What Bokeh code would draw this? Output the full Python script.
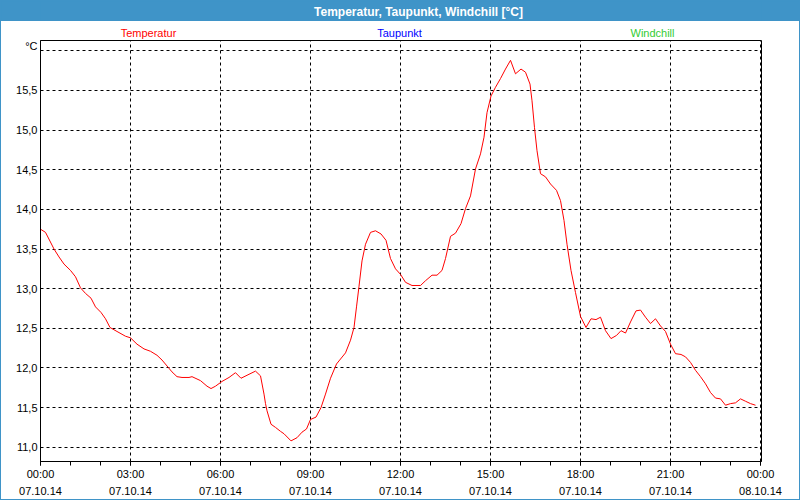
from bokeh.plotting import figure
from bokeh.layouts import column
from bokeh.models import FixedTicker, Label, Range1d
from bokeh.embed import file_html
from bokeh.resources import INLINE

# ---- data (minutes since 07.10.14 00:00, temperature in °C) ----
minutes = [0, 10, 27, 37, 47, 60, 70, 80, 90, 101, 110, 121, 130, 139, 153, 170, 180,
           193, 207, 220, 233, 243, 255, 263, 273, 283, 297, 303, 320, 333, 341, 350,
           363, 377, 390, 401, 417, 430, 440, 447, 450, 453, 461, 470, 480, 487, 501,
           513, 523, 532, 540, 551, 561, 570, 580, 592, 610, 620, 627, 632, 637, 643,
           650, 660, 670, 681, 691, 700, 710, 720, 730, 743, 760, 770, 783, 793, 803,
           810, 820, 830, 841, 850, 860, 870, 880, 887, 893, 901, 910, 920, 930, 940,
           950, 961, 970, 979, 983, 988, 993, 1000, 1010, 1020, 1032, 1040, 1047, 1053,
           1061, 1070, 1080, 1091, 1101, 1111, 1120, 1130, 1141, 1152, 1161, 1170, 1180,
           1191, 1200, 1210, 1220, 1230, 1240, 1250, 1260, 1270, 1281, 1290, 1300, 1310,
           1320, 1330, 1340, 1350, 1360, 1370, 1380, 1390, 1400, 1410, 1420, 1430]
temperatur = [13.75, 13.71, 13.50, 13.40, 13.31, 13.23, 13.15, 13.01, 12.94, 12.88, 12.77,
              12.70, 12.62, 12.51, 12.46, 12.40, 12.38, 12.30, 12.24, 12.21, 12.16, 12.10,
              12.01, 11.95, 11.89, 11.88, 11.88, 11.89, 11.84, 11.77, 11.74, 11.77, 11.83,
              11.88, 11.94, 11.87, 11.92, 11.96, 11.90, 11.67, 11.55, 11.46, 11.29, 11.25,
              11.20, 11.17, 11.08, 11.12, 11.19, 11.23, 11.35, 11.38, 11.50, 11.67, 11.87,
              12.05, 12.19, 12.35, 12.51, 12.77, 13.03, 13.35, 13.56, 13.71, 13.73, 13.69,
              13.61, 13.38, 13.25, 13.18, 13.08, 13.04, 13.04, 13.10, 13.17, 13.17, 13.23,
              13.38, 13.66, 13.70, 13.82, 14.01, 14.17, 14.51, 14.70, 14.91, 15.22, 15.43,
              15.54, 15.65, 15.77, 15.88, 15.71, 15.77, 15.73, 15.58, 15.37, 15.03, 14.74,
              14.45, 14.41, 14.32, 14.24, 14.11, 13.86, 13.56, 13.23, 12.95, 12.65, 12.51,
              12.62, 12.61, 12.64, 12.47, 12.37, 12.41, 12.47, 12.44, 12.58, 12.72, 12.73,
              12.64, 12.56, 12.62, 12.53, 12.46, 12.30, 12.18, 12.17, 12.14, 12.07, 11.97,
              11.89, 11.80, 11.69, 11.62, 11.61, 11.53, 11.55, 11.56, 11.61, 11.58, 11.55,
              11.53]

x_tick_minutes = [0, 180, 360, 540, 720, 900, 1080, 1260, 1440]
x_minor_minutes = list(range(0, 1441, 60))
x_tick_labels = ["00:00\n07.10.14", "03:00\n07.10.14", "06:00\n07.10.14", "09:00\n07.10.14",
                 "12:00\n07.10.14", "15:00\n07.10.14", "18:00\n07.10.14", "21:00\n07.10.14",
                 "00:00\n08.10.14"]
y_grid_ticks = [11.0, 11.5, 12.0, 12.5, 13.0, 13.5, 14.0, 14.5, 15.0, 15.5, 16.0]
y_label_ticks = [11.0, 11.5, 12.0, 12.5, 13.0, 13.5, 14.0, 14.5, 15.0, 15.5, 16.06]
y_tick_labels = ["11,0", "11,5", "12,0", "12,5", "13,0", "13,5", "14,0", "14,5", "15,0", "15,5", "°C"]

chart_title = "Temperatur, Taupunkt, Windchill [°C]"
series_names = ["Temperatur", "Taupunkt", "Windchill"]
series_colors = ["#ff0000", "#0000ff", "#33cc33"]

FONT = "Liberation Sans"
BLUE = "#3f94c8"
X_RANGE = (0, 1442)


def strip(height, fill, border_lr):
    f = figure(width=798, height=height, output_backend="svg", toolbar_location=None,
               x_range=Range1d(*X_RANGE), y_range=Range1d(0, height),
               min_border_left=border_lr[0], min_border_right=border_lr[1],
               min_border_top=0, min_border_bottom=0,
               background_fill_color=fill, border_fill_color=fill, outline_line_color=None)
    f.title.visible = False
    f.axis.visible = False
    f.grid.visible = False
    f.styles = {"background-color": fill}
    return f


# ---------- title bar ----------
bar = strip(20, BLUE, (0, 0))
bar.add_layout(Label(x=756, y=10, text=chart_title, text_color="white", text_font=FONT,
                     text_font_size="12px", text_font_style="bold",
                     text_align="center", text_baseline="middle"))

# ---------- series names ----------
names = strip(18, "white", (39, 38))
label_x = [216, 718, 1224]
for name, color, lx in zip(series_names, series_colors, label_x):
    names.add_layout(Label(x=lx, y=7, text=name, text_color=color, text_font=FONT,
                           text_font_size="11px", text_align="center", text_baseline="middle"))

# ---------- chart ----------
p = figure(width=798, height=460, output_backend="svg", toolbar_location=None,
           x_range=Range1d(*X_RANGE), y_range=Range1d(10.82, 16.13),
           min_border_left=39, min_border_right=38, min_border_bottom=38, min_border_top=1,
           background_fill_color="white", border_fill_color="white",
           outline_line_color="black", outline_line_width=1)
p.title.visible = False

xa = p.xaxis[0]
xa.ticker = FixedTicker(ticks=x_tick_minutes, minor_ticks=x_minor_minutes)
xa.major_label_overrides = dict(zip(x_tick_minutes, x_tick_labels))
xa.major_tick_in = 0
xa.major_tick_out = 4
xa.minor_tick_in = 0
xa.minor_tick_out = 4
xa.axis_line_color = "black"
xa.major_tick_line_color = "black"
xa.minor_tick_line_color = "black"
xa.major_label_text_font = FONT
xa.major_label_text_font_size = "11px"
xa.major_label_text_color = "black"
xa.major_label_text_line_height = 1.45
xa.major_label_standoff = 2

ya = p.yaxis[0]
ya.ticker = FixedTicker(ticks=y_label_ticks)
ya.major_label_overrides = dict(zip(y_label_ticks, y_tick_labels))
ya.major_tick_in = 0
ya.major_tick_out = 0
ya.minor_tick_line_color = None
ya.major_tick_line_color = None
ya.axis_line_color = "black"
ya.major_label_text_font = FONT
ya.major_label_text_font_size = "11px"
ya.major_label_text_color = "black"
ya.major_label_standoff = 3

p.ygrid[0].ticker = FixedTicker(ticks=y_grid_ticks)
for g in (p.xgrid[0], p.ygrid[0]):
    g.grid_line_color = "black"
    g.grid_line_dash = "3 3"
    g.grid_line_width = 1
    g.grid_line_alpha = 1.0

p.line(minutes, temperatur, line_color=series_colors[0], line_width=1)

layout = column(bar, names, p, spacing=0)
layout.styles = {"border": "1px solid " + BLUE}

open("out.html", "w").write(file_html(layout, INLINE))
